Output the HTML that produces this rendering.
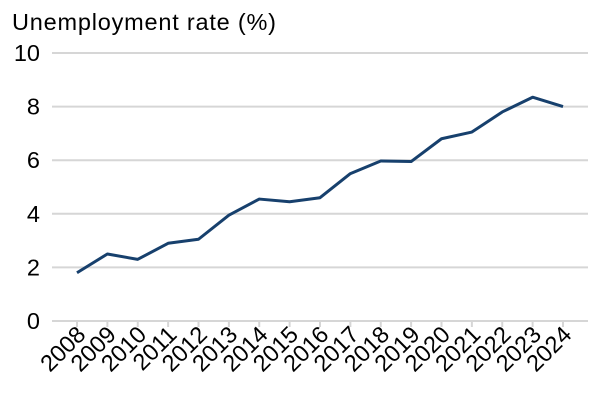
<!DOCTYPE html>
<html><head><meta charset="utf-8"><style>
html,body{margin:0;padding:0;background:#fff;}
svg{display:block;font-family:"Liberation Sans",Arial,sans-serif;}
</style></head><body>
<svg id="chart" width="600" height="400">
<text x="12" y="30" font-size="23.5" textLength="264" fill="#000">Unemployment rate (%)</text>
<g id="grid"></g><g id="yt"></g><g id="xt"></g><g id="series"></g>
</svg>
<script>
const years=["2008","2009","2010","2011","2012","2013","2014","2015","2016","2017","2018","2019","2020","2021","2022","2023","2024"];
const rates=[1.8,2.5,2.3,2.9,3.05,3.95,4.55,4.45,4.6,5.5,5.97,5.95,6.8,7.05,7.8,8.35,8.0];
const yTicks=[0,2,4,6,8,10];
const NS="http://www.w3.org/2000/svg";
const x0=77,x1=563,yBase=321,yTop=53;
const xs=i=>x0+(x1-x0)*i/(years.length-1);
const ys=v=>yBase-(yBase-yTop)*v/10;
function mk(t,a,p){const e=document.createElementNS(NS,t);for(const k in a)e.setAttribute(k,a[k]);p.appendChild(e);return e;}
const grid=document.getElementById('grid'),yt=document.getElementById('yt'),xt=document.getElementById('xt'),ser=document.getElementById('series');
yTicks.forEach(v=>{
 const l=mk('line',{x1:52,x2:588,y1:ys(v),y2:ys(v),stroke:'#d6d6d6','stroke-width':2},grid);
 
 
 const t=mk('text',{x:40,y:ys(v)+8,'text-anchor':'end','font-size':23.5},yt);t.textContent=v;
 
 
});
years.forEach((y,i)=>{
 const m=mk('line',{x1:xs(i),x2:xs(i),y1:321,y2:327,stroke:'#d6d6d6','stroke-width':2},grid);
 
 
 const t=mk('text',{transform:`translate(${xs(i)+10},${336}) rotate(-45)`,'text-anchor':'end','font-size':23.5},xt);t.textContent=y;
 
 
});
const p=mk('polyline',{points:rates.map((v,i)=>xs(i)+','+ys(v)).join(' '),fill:'none',stroke:'#17406d','stroke-width':3,'stroke-linejoin':'round'},ser);


</script>
</body></html>
